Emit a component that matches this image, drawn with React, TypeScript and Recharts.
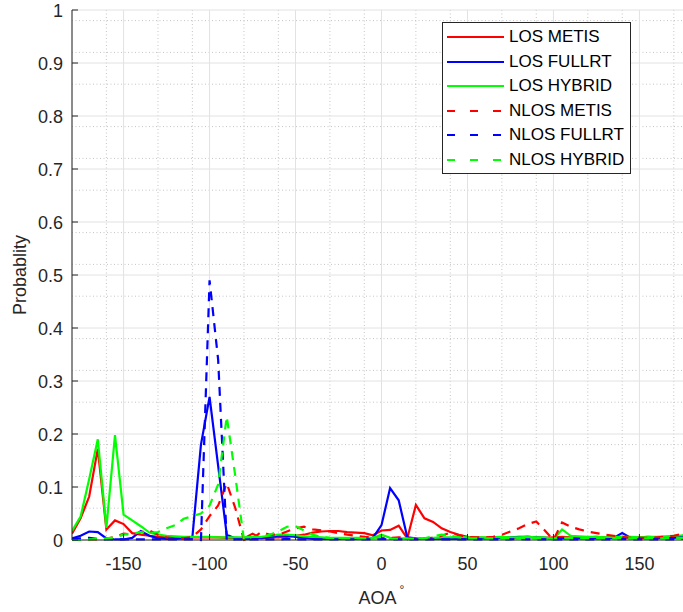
import React from 'react';
import { LineChart, Line, XAxis, YAxis, CartesianGrid, Legend } from 'recharts';

// angle of arrival, degrees
const aoa = [
  -180, -175, -170, -165, -160, -155, -150, -145, -140, -135,
  -130, -125, -120, -115, -110, -105, -100, -95, -90, -85,
  -80, -75, -70, -65, -60, -55, -50, -45, -40, -35,
  -30, -25, -20, -15, -10, -5, 0, 5, 10, 15,
  20, 25, 30, 35, 40, 45, 50, 55, 60, 65,
  70, 75, 80, 85, 90, 95, 100, 105, 110, 115,
  120, 125, 130, 135, 140, 145, 150, 155, 160, 165,
  170, 175, 180,
];

const losMetis = [
  0.012, 0.041, 0.082, 0.172, 0.02, 0.037, 0.03, 0.013, 0.01, 0.008,
  0.006, 0.005, 0.005, 0.005, 0.005, 0.005, 0.005, 0.005, 0.004, 0.004,
  0.003, 0.012, 0.003, 0.005, 0.005, 0.006, 0.008, 0.01, 0.014, 0.016,
  0.017, 0.017, 0.015, 0.014, 0.013, 0.009, 0.018, 0.019, 0.027, 0.003,
  0.066, 0.041, 0.034, 0.022, 0.015, 0.01, 0.006, 0.005, 0.004, 0.005,
  0.005, 0.004, 0.005, 0.006, 0.005, 0.004, 0.005, 0.006, 0.005, 0.004,
  0.005, 0.006, 0.005, 0.004, 0.005, 0.004, 0.005, 0.006, 0.005, 0.004,
  0.006, 0.007, 0.006,
];

const losFullrt = [
  0.003, 0.008, 0.016, 0.015, 0.003, 0.001, 0.001, 0.004, 0.017, 0.008,
  0.003, 0.002, 0.002, 0.003, 0.005, 0.18, 0.27, 0.14, 0.01, 0.003,
  0.002, 0.002, 0.004, 0.006, 0.008, 0.008, 0.006, 0.004, 0.002, 0.002,
  0.002, 0.002, 0.002, 0.002, 0.003, 0.004, 0.028, 0.098, 0.075, 0.005,
  0.003, 0.002, 0.002, 0.002, 0.002, 0.002, 0.003, 0.003, 0.003, 0.004,
  0.004, 0.005, 0.006, 0.006, 0.005, 0.004, 0.003, 0.003, 0.003, 0.003,
  0.003, 0.003, 0.003, 0.004, 0.013, 0.004, 0.003, 0.004, 0.003, 0.005,
  0.004, 0.006, 0.005,
];

const losHybrid = [
  0.017, 0.044, 0.115, 0.19, 0.023, 0.198, 0.048, 0.037, 0.026, 0.014,
  0.01, 0.008, 0.007, 0.006, 0.006, 0.006, 0.006, 0.005, 0.005, 0.005,
  0.005, 0.006, 0.006, 0.008, 0.01, 0.01, 0.009, 0.007, 0.006, 0.005,
  0.004, 0.004, 0.004, 0.004, 0.004, 0.004, 0.01, 0.004, 0.003, 0.003,
  0.003, 0.003, 0.004, 0.005, 0.005, 0.006, 0.005, 0.005, 0.005, 0.005,
  0.006, 0.005, 0.005, 0.006, 0.005, 0.005, 0.001, 0.02, 0.008, 0.007,
  0.006, 0.006, 0.005, 0.006, 0.006, 0.006, 0.005, 0.006, 0.006, 0.007,
  0.008, 0.009, 0.012,
];

const nlosMetis = [
  0.001, 0.001, 0.001, 0.001, 0.002, 0.006, 0.012, 0.01, 0.015, 0.018,
  0.01, 0.005, 0.003, 0.003, 0.006, 0.02, 0.045, 0.065, 0.107, 0.06,
  0.0, 0.003, 0.015, 0.01, 0.01, 0.016, 0.022, 0.025, 0.02, 0.018,
  0.016, 0.013, 0.01, 0.008, 0.006, 0.005, 0.004, 0.004, 0.005, 0.004,
  0.003, 0.003, 0.004, 0.008, 0.014, 0.009, 0.006, 0.005, 0.005, 0.006,
  0.01, 0.016, 0.022, 0.03, 0.035, 0.018, 0.0, 0.033, 0.025, 0.02,
  0.016, 0.013, 0.01, 0.008, 0.006, 0.004, 0.004, 0.004, 0.005, 0.006,
  0.008, 0.012, 0.012,
];

const nlosFullrt = [
  0.002, 0.003, 0.004, 0.002, 0.001, 0.001, 0.001, 0.001, 0.001, 0.001,
  0.001, 0.001, 0.001, 0.001, 0.001, 0.0, 0.49, 0.34, 0.0, 0.001,
  0.001, 0.001, 0.001, 0.001, 0.001, 0.002, 0.001, 0.001, 0.001, 0.001,
  0.001, 0.001, 0.001, 0.001, 0.001, 0.001, 0.002, 0.001, 0.001, 0.001,
  0.001, 0.001, 0.001, 0.001, 0.001, 0.001, 0.001, 0.001, 0.001, 0.001,
  0.001, 0.001, 0.002, 0.001, 0.001, 0.001, 0.001, 0.001, 0.001, 0.001,
  0.001, 0.001, 0.001, 0.001, 0.002, 0.001, 0.001, 0.001, 0.001, 0.001,
  0.001, 0.002, 0.001,
];

const nlosHybrid = [
  0.0, 0.0, 0.001, 0.002, 0.003, 0.005, 0.01, 0.012, 0.015, 0.013,
  0.015, 0.022, 0.028, 0.04, 0.045, 0.05, 0.065, 0.105, 0.233, 0.12,
  0.0, 0.006, 0.006, 0.01, 0.016, 0.025, 0.026, 0.018, 0.01, 0.006,
  0.004, 0.003, 0.003, 0.003, 0.003, 0.004, 0.006, 0.002, 0.002, 0.002,
  0.002, 0.003, 0.007, 0.01, 0.008, 0.005, 0.003, 0.003, 0.003, 0.003,
  0.003, 0.003, 0.004, 0.004, 0.003, 0.003, 0.003, 0.004, 0.004, 0.003,
  0.003, 0.003, 0.003, 0.003, 0.003, 0.003, 0.003, 0.003, 0.003, 0.003,
  0.004, 0.004, 0.005,
];

const xTicks = [-150, -100, -50, 0, 50, 100, 150];
const xMinorTicks = [
  -170, -160, -140, -130, -120, -110, -90, -80, -70, -60, -40, -30, -20, -10,
  10, 20, 30, 40, 60, 70, 80, 90, 110, 120, 130, 140, 160, 170,
];
const yTicks = [0, 0.1, 0.2, 0.3, 0.4, 0.5, 0.6, 0.7, 0.8, 0.9, 1];
const yMinorTicks = [
  0.02, 0.04, 0.06, 0.08, 0.12, 0.14, 0.16, 0.18, 0.22, 0.24, 0.26, 0.28,
  0.32, 0.34, 0.36, 0.38, 0.42, 0.44, 0.46, 0.48, 0.52, 0.54, 0.56, 0.58,
  0.62, 0.64, 0.66, 0.68, 0.72, 0.74, 0.76, 0.78, 0.82, 0.84, 0.86, 0.88,
  0.92, 0.94, 0.96, 0.98,
];

const data = aoa.map((a, i) => ({
  aoa: a,
  losMetis: losMetis[i],
  losFullrt: losFullrt[i],
  losHybrid: losHybrid[i],
  nlosMetis: nlosMetis[i],
  nlosFullrt: nlosFullrt[i],
  nlosHybrid: nlosHybrid[i],
}));

const series = [
  { key: 'losMetis', name: 'LOS METIS', color: '#ff0000', dash: undefined },
  { key: 'losFullrt', name: 'LOS FULLRT', color: '#0000ff', dash: undefined },
  { key: 'losHybrid', name: 'LOS HYBRID', color: '#00ff00', dash: undefined },
  { key: 'nlosMetis', name: 'NLOS METIS', color: '#ff0000', dash: '9 7' },
  { key: 'nlosFullrt', name: 'NLOS FULLRT', color: '#0000ff', dash: '9 7' },
  { key: 'nlosHybrid', name: 'NLOS HYBRID', color: '#00ff00', dash: '9 7' },
];
const legendOrder = series.map((s) => s.name);

const FONT = '"Liberation Sans", Arial, sans-serif';
const AXIS = '#262626';

const BottomTick = ({ x, y, payload }: any) => (
  <g>
    <line x1={x} y1={y} x2={x} y2={y - 6} stroke={AXIS} />
    <text x={x} y={y + 30} textAnchor="middle" fontSize={18} fill={AXIS} fontFamily={FONT}>
      {payload.value}
    </text>
  </g>
);

const TopTick = ({ x, y }: any) => <line x1={x} y1={y} x2={x} y2={y + 6} stroke={AXIS} />;

const LeftTick = ({ x, y, payload }: any) => (
  <g>
    <line x1={x} y1={y} x2={x + 6} y2={y} stroke={AXIS} />
    <text x={x - 9} y={y + 7} textAnchor="end" fontSize={18} fill={AXIS} fontFamily={FONT}>
      {String(Math.round(payload.value * 10) / 10)}
    </text>
  </g>
);

const XLabel = ({ viewBox }: any) => (
  <text
    x={viewBox.x + viewBox.width / 2 - 23}
    y={viewBox.y + 64}
    fontSize={18}
    fill={AXIS}
    fontFamily={FONT}
  >
    AOA
    <tspan dx={3} dy={-10} fontSize={12}>°</tspan>
  </text>
);

const YLabel = ({ viewBox }: any) => {
  const cx = 26;
  const cy = viewBox.y + viewBox.height / 2;
  return (
    <text
      x={cx}
      y={cy}
      textAnchor="middle"
      fontSize={18}
      fill={AXIS}
      fontFamily={FONT}
      transform={`rotate(-90, ${cx}, ${cy})`}
    >
      Probablity
    </text>
  );
};

const LegendBox = ({ payload }: any) => {
  const items = [...(payload || [])].sort(
    (a: any, b: any) => legendOrder.indexOf(a.value) - legendOrder.indexOf(b.value)
  );
  return (
    <div
      style={{
        width: 189,
        height: 152,
        boxSizing: 'border-box',
        border: `1px solid ${AXIS}`,
        background: '#fff',
        padding: '2px 0 0 4px',
        fontFamily: FONT,
      }}
    >
      {items.map((entry: any) => (
        <div key={entry.value} style={{ display: 'flex', alignItems: 'center', height: 24.5 }}>
          <svg width={57} height={8} style={{ display: 'block' }}>
            <line
              x1={0}
              y1={4}
              x2={57}
              y2={4}
              stroke={entry.color}
              strokeWidth={2.2}
              strokeDasharray={entry.payload?.strokeDasharray ? '8 15' : undefined}
            />
          </svg>
          <span style={{ marginLeft: 5, fontSize: 17, color: '#000', lineHeight: '20px' }}>
            {entry.value}
          </span>
        </div>
      ))}
    </div>
  );
};

export default function App() {
  return (
    <div
      style={{
        position: 'absolute',
        left: 0,
        top: 0,
        width: 683,
        height: 612,
        overflow: 'hidden',
        background: '#fff',
      }}
    >
      <LineChart width={700} height={612} data={data} margin={{ top: 10, right: 9, bottom: 42, left: 12 }}>
        <CartesianGrid
          verticalValues={xMinorTicks}
          horizontalValues={yMinorTicks}
          stroke="#c4c4c4"
          strokeDasharray="1 2.5"
        />
        <CartesianGrid stroke="#e2e2e2" strokeWidth={1} />
        <XAxis
          dataKey="aoa"
          type="number"
          domain={[-180, 180]}
          ticks={xTicks}
          allowDataOverflow
          height={30}
          tickSize={0}
          tickMargin={0}
          tickLine={false}
          tick={<BottomTick />}
          axisLine={{ stroke: AXIS }}
          label={<XLabel />}
        />
        <XAxis
          xAxisId="top"
          orientation="top"
          dataKey="aoa"
          type="number"
          domain={[-180, 180]}
          ticks={xTicks}
          height={0}
          tickSize={0}
          tickMargin={0}
          tickLine={false}
          tick={<TopTick />}
          axisLine={{ stroke: AXIS }}
        />
        <YAxis
          type="number"
          domain={[0, 1]}
          ticks={yTicks}
          width={60}
          tickSize={0}
          tickMargin={0}
          tickLine={false}
          tick={<LeftTick />}
          axisLine={{ stroke: AXIS }}
          label={<YLabel />}
        />
        <Legend
          layout="horizontal"
          verticalAlign="middle"
          align="center"
          wrapperStyle={{ left: 442, top: 22, width: 189, height: 152 }}
          content={<LegendBox />}
        />
        {series.map((s) => (
          <Line
            key={s.key}
            dataKey={s.key}
            name={s.name}
            type="linear"
            stroke={s.color}
            strokeWidth={2.2}
            strokeDasharray={s.dash}
            dot={false}
            activeDot={false}
            isAnimationActive={false}
          />
        ))}
      </LineChart>
    </div>
  );
}
